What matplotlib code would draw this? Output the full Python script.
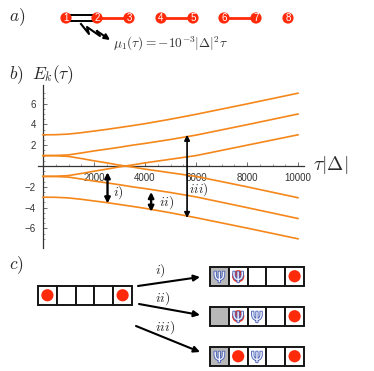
# panels a, b, c of the spectrum figure
import matplotlib
matplotlib.use("Agg")
import matplotlib.pyplot as plt
import matplotlib.patheffects as pe
from matplotlib.patches import Circle, Rectangle, FancyArrowPatch

plt.rcParams["mathtext.fontset"] = "cm"
plt.rcParams["font.family"] = ["Liberation Sans", "DejaVu Sans"]

W, H = 374, 371

# Datos
tau = [0, 500, 1000, 1500, 2000, 2500, 3000, 3500, 4000, 5000, 6000, 8000, 10000]
e1 = [3.0, 3.01, 3.07, 3.2, 3.36, 3.52, 3.7, 3.88, 4.07, 4.5, 4.97, 5.97, 7.0]
e2 = [1.0, 1.01, 1.07, 1.25, 1.45, 1.62, 1.8, 2.0, 2.17, 2.55, 2.97, 3.97, 5.0]
e3 = [-1.0, -0.99, -0.92, -0.72, -0.5, -0.3, -0.08, 0.1, 0.3, 0.65, 1.0, 2.0, 3.0]
e4 = [1.0, 0.99, 0.92, 0.72, 0.5, 0.3, 0.08, -0.1, -0.3, -0.65, -1.0, -2.0, -3.05]
e5 = [-1.0, -1.01, -1.07, -1.25, -1.45, -1.62, -1.8, -2.0, -2.17, -2.55, -2.97, -4.0, -5.05]
e6 = [-3.0, -3.01, -3.07, -3.2, -3.36, -3.52, -3.7, -3.88, -4.07, -4.5, -4.97, -5.97, -7.0]
levels = [e1, e2, e3, e4, e5, e6]
xticks = [2000, 4000, 6000, 8000, 10000]
yticks = [-6, -4, -2, 2, 4, 6]
sites = ["1", "2", "3", "4", "5", "6", "7", "8"]
site_x = [66, 97, 129, 161, 193, 224, 256, 288]
links = [(1, 2), (3, 4), (5, 6)]
# contenido de cada fila del panel c: gris, rojos, psi
rows = [
    {"y": 267, "gray": [0], "red": [1, 4], "psi": [0, 1]},
    {"y": 307, "gray": [0], "red": [1, 4], "psi": [1, 2]},
    {"y": 347, "gray": [0], "red": [1, 4], "psi": [0, 2]},
]

RED = "#ff2a0a"
ORANGE = "#f5871a"
TXT = "#2a2a2a"

fig = plt.figure(figsize=(W / 100, H / 100), dpi=100)

# Capa en pixeles para los paneles a y c
bg = fig.add_axes([0, 0, 1, 1])
bg.set_xlim(0, W)
bg.set_ylim(H, 0)
bg.axis("off")


def arrow(x0, y0, x1, y1, style="-|>", lw=1.5, ms=9, ax=bg):
    ax.add_patch(FancyArrowPatch((x0, y0), (x1, y1), arrowstyle=style, mutation_scale=ms,
                                 lw=lw, color="black", shrinkA=0, shrinkB=0, zorder=6))


def psi(x, y):
    bg.text(x, y + 1.5, "Ψ", color="#eef0fa", fontsize=10.5, ha="center", va="center", family="DejaVu Sans", zorder=8,
            path_effects=[pe.withStroke(linewidth=1.3, foreground="#4a62b8")])


def boxes(x0, y0, red, gray=(), psis=(), cell=18.8, h=18.5):
    for k in range(5):
        fc = "#b8b8b8" if k in gray else "white"
        bg.add_patch(Rectangle((x0 + k * cell, y0), cell, h, fc=fc, ec="#151515", lw=1.4, zorder=3))
    for k in red:
        bg.add_patch(Circle((x0 + (k + 0.5) * cell, y0 + h / 2), 6.1, fc=RED, ec="none", zorder=5))
    for k in psis:
        psi(x0 + (k + 0.5) * cell, y0 + h / 2)


# Panel a
bg.text(9, 17, r"$a)$", fontsize=12.5, va="center", color=TXT)
for a, b in links:
    bg.plot([site_x[a], site_x[b]], [18, 18], color=RED, lw=2.0, zorder=2)
bg.add_patch(Rectangle((site_x[0], 14.8), site_x[1] - site_x[0], 5.8, fc="white", ec="black", lw=1.4, zorder=2))
for x, s in zip(site_x, sites):
    bg.add_patch(Circle((x, 18), 5.6, fc=RED, ec="none", zorder=4))
    bg.text(x, 18, s, color="white", fontsize=7, ha="center", va="center", zorder=5)
bg.plot([81, 89, 87, 100, 97], [24, 34, 27, 36, 31], color="black", lw=1.5, zorder=3)
arrow(97, 31, 110, 40, ms=8)
bg.text(113, 44, r"$\mu_1(\tau)=-10^{-3}|\Delta|^2\tau$", fontsize=9.6, va="center", color="#333333")

# Panel b: etiquetas
bg.text(9, 75, r"$b)$", fontsize=12.5, va="center", color=TXT)
bg.text(32, 75, r"$E_k(\tau)$", fontsize=12.5, va="center", color=TXT)
bg.text(313, 165, r"$\tau|\Delta|$", fontsize=14, va="center", color=TXT)

# Panel c
bg.text(9, 265, r"$c)$", fontsize=12.5, va="center", color=TXT)
boxes(38, 286, [0, 4])
arrow(138, 286, 200, 277)
arrow(139, 304, 200, 315)
arrow(136, 326, 200, 352)
bg.text(160, 271, r"$i)$", fontsize=10, ha="center", va="center", color=TXT)
bg.text(163, 299, r"$ii)$", fontsize=10, ha="center", va="center", color=TXT)
bg.text(165, 328, r"$iii)$", fontsize=10, ha="center", va="center", color=TXT)
for r in rows:
    boxes(210, r["y"], r["red"], r["gray"], r["psi"])

# Panel b: ejes en pixeles 38-304 x 85-248
ax = fig.add_axes([38 / W, 1 - 248 / H, (304 - 38) / W, (248 - 85) / H])
ax.patch.set_alpha(0)
ax.set_xlim((38 - 43) / 25.5 * 1000, (304 - 43) / 25.5 * 1000)
ax.set_ylim((166 - 248) / 10.4, (166 - 85) / 10.4)
for e in levels:
    ax.plot(tau, e, color=ORANGE, lw=1.2, zorder=3)
for s in ["top", "right"]:
    ax.spines[s].set_visible(False)
ax.spines["left"].set_position(("data", 0))
ax.spines["bottom"].set_position(("data", 0))
ax.spines["left"].set_color("#333333")
ax.spines["bottom"].set_color("#333333")
ax.spines["left"].set_linewidth(0.9)
ax.spines["bottom"].set_linewidth(0.9)
ax.set_xticks(xticks)
ax.set_yticks(yticks)
ax.set_xticks([t for t in range(500, 10001, 500) if t not in xticks], minor=True)
ax.set_yticks([v / 2 for v in range(-14, 15) if v % 4 != 0 or v == 0], minor=True)
ax.tick_params(axis="both", which="major", direction="in", length=3, width=0.6, color="#555555",
               labelsize=7, labelcolor="#333333", pad=5)
ax.tick_params(axis="both", which="minor", direction="in", length=1.6, width=0.5, color="#777777")

ax.annotate("", xy=(2530, -0.6), xytext=(2530, -3.6), arrowprops=dict(arrowstyle="<|-|>", color="black", lw=1.7, mutation_scale=8, shrinkA=0, shrinkB=0), zorder=5)
ax.annotate("", xy=(4240, -2.5), xytext=(4240, -4.4), arrowprops=dict(arrowstyle="<|-|>", color="black", lw=1.7, mutation_scale=8, shrinkA=0, shrinkB=0), zorder=5)
ax.annotate("", xy=(5650, 3.0), xytext=(5650, -5.0), arrowprops=dict(arrowstyle="<|-|>", color="black", lw=1.2, mutation_scale=8, shrinkA=0, shrinkB=0), zorder=5)
ax.text(2950, -2.6, r"$i)$", fontsize=10, ha="center", va="center", color=TXT)
ax.text(4850, -3.5, r"$ii)$", fontsize=10, ha="center", va="center", color=TXT)
ax.text(6100, -2.3, r"$iii)$", fontsize=9.5, ha="center", va="center", color=TXT)

fig.savefig("out.png", dpi=100)
